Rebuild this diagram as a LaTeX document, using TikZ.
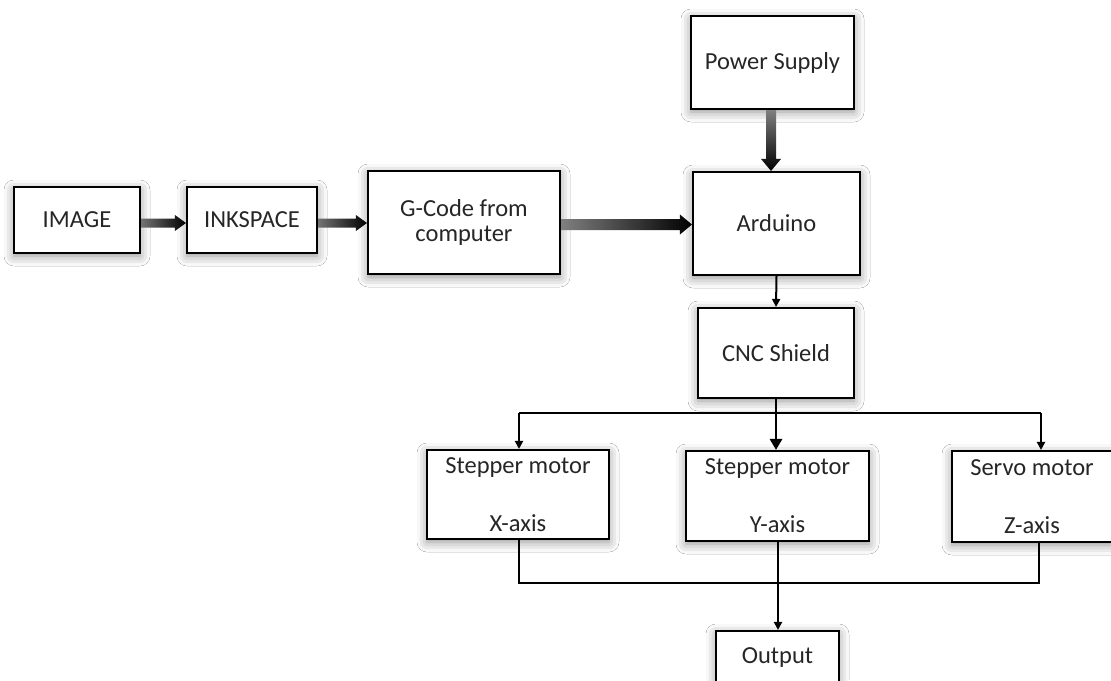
\documentclass[tikz,border=0pt]{standalone}
\usepackage{fontspec}
\setmainfont{Carlito}
\usetikzlibrary{calc,arrows.meta,shadows.blur}
\begin{document}
\begin{tikzpicture}[x=1pt,y=-1pt,
  blk/.style={draw=black, line width=2.1pt, fill=white, inner sep=0pt, align=center,
    font=\fontsize{24.5}{28}\selectfont, text=black!85,
    blur shadow={shadow xshift=0pt, shadow yshift=-3pt, shadow blur radius=10pt, shadow opacity=45}},
  thin/.style={draw=black, line width=2pt},
  thinarr/.style={thin, -{Triangle[length=8pt,width=8pt]}},
  midarr/.style={draw=black, line width=2.8pt, -{Triangle[length=11pt,width=12pt]}}]
\useasboundingbox (0,0) rectangle (1111,680);
\clip (0,0) rectangle (1111,680);
\fill[white] (0,0) rectangle (1111,680);

\node[blk, minimum width=126pt, minimum height=66pt] (img) at (77,220) {IMAGE};
\node[blk, minimum width=130pt, minimum height=66pt] (ink) at (252,220) {INKSPACE};
\node[blk, minimum width=192pt, minimum height=103pt] (gc) at (464,222.5) {G-Code from\\[-3pt]computer};
\node[blk, minimum width=167pt, minimum height=103pt] (ard) at (776.5,223.5) {Arduino};
\node[blk, minimum width=163pt, minimum height=93pt] (ps) at (772.5,62.5) {Power Supply};
\node[blk, minimum width=156pt, minimum height=90pt] (cnc) at (776,353) {CNC Shield};
\node[blk, minimum width=182pt, minimum height=89pt] (sx) at (518,494.5) {Stepper motor\\[30pt]X-axis};
\node[blk, minimum width=183pt, minimum height=90pt] (sy) at (777.5,496) {Stepper motor\\[30pt]Y-axis};
\node[blk, minimum width=160pt, minimum height=91pt] (sz) at (1032,496.5) {Servo motor\\[30pt]Z-axis};
\node[blk, minimum width=123pt, minimum height=54pt] (out) at (777.5,658) {Output};

% thick shaded arrows (horizontal: y offsets relative to source east anchor)
\coordinate (a1) at ($(img.east)+(0,3)$);
\coordinate (a1e) at (a1 -| ink.west);
\shade[left color=black!55, right color=black]
  ($(a1)+(0,-4.5)$) -- ($(a1e)+(-11,-4.5)$) -- ($(a1e)+(-11,-8)$) -- (a1e)
  -- ($(a1e)+(-11,8)$) -- ($(a1e)+(-11,4.5)$) -- ($(a1)+(0,4.5)$) -- cycle;
\coordinate (a2) at ($(ink.east)+(0,3)$);
\coordinate (a2e) at (a2 -| gc.west);
\shade[left color=black!55, right color=black]
  ($(a2)+(0,-4.5)$) -- ($(a2e)+(-11,-4.5)$) -- ($(a2e)+(-11,-8)$) -- (a2e)
  -- ($(a2e)+(-11,8)$) -- ($(a2e)+(-11,4.5)$) -- ($(a2)+(0,4.5)$) -- cycle;
\coordinate (a3) at ($(gc.east)+(0,2)$);
\coordinate (a3e) at (a3 -| ard.west);
\shade[left color=black!50, right color=black]
  ($(a3)+(0,-5.5)$) -- ($(a3e)+(-12,-5.5)$) -- ($(a3e)+(-12,-10)$) -- (a3e)
  -- ($(a3e)+(-12,10)$) -- ($(a3e)+(-12,5.5)$) -- ($(a3)+(0,5.5)$) -- cycle;
\coordinate (a4) at ($(ps.south)+(-1.5,0)$);
\coordinate (a4e) at (a4 |- ard.north);
\shade[top color=black!50, bottom color=black]
  ($(a4)+(-5,0)$) -- ($(a4e)+(-5,-12)$) -- ($(a4e)+(-10,-12)$) -- (a4e)
  -- ($(a4e)+(10,-12)$) -- ($(a4e)+(5,-12)$) -- ($(a4)+(5,0)$) -- cycle;

% Arduino to CNC
\draw[thinarr] (ard.south) -- (cnc.north);

% distribution bus
\coordinate (bx) at (519,413);
\coordinate (bz) at (1041,413);
\draw[thin] (bx) -- (bz);
\draw[thinarr] (bx) -- (bx |- sx.north);
\draw[thinarr] (bz) -- (bz |- sz.north);
\draw[midarr] (cnc.south) -- (cnc.south |- sy.north);

% collection bus
\coordinate (cx) at (519,583);
\coordinate (cy) at (778,583);
\coordinate (cz) at (1039,583);
\draw[thin] (cx |- sx.south) -- (cx) -- (cz) -- (cz |- sz.south);
\draw[thinarr] (cy |- sy.south) -- (cy |- out.north);
\end{tikzpicture}
\end{document}
